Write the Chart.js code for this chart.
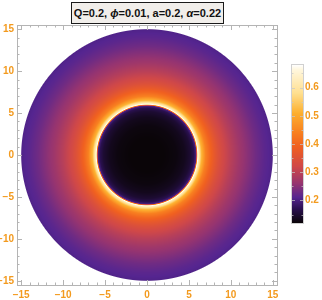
<!DOCTYPE html>
<html>
<head>
<meta charset="utf-8">
<script src="https://cdn.jsdelivr.net/npm/chart.js@4"></script>
<style>
  body { margin: 0; background: #fff; }
  #wrap { position: relative; width: 322px; height: 300px; }
  #main { position: absolute; left: 0; top: 0; }
  #bar { position: absolute; left: 280px; top: 55px; }
  #title {
    position: absolute; left: 71px; top: 2px; width: 151px; height: 20px;
    border: 1px solid #1a1a1a; background: #f1eeea;
    font: bold 11px "Liberation Sans", Arial, sans-serif; color: #111;
    text-align: center; line-height: 20px; white-space: nowrap;
  }
</style>
</head>
<body>
<div id="wrap">
  <canvas id="main" width="322" height="300"></canvas>
  <canvas id="bar" width="42" height="180"></canvas>
  <div id="title">Q=0.2, <i>ϕ</i>=0.01, a=0.2, <i>α</i>=0.22</div>
</div>
<script>
// ─── Data ──────────────────────────────────────────
const AXIS_TICKS = [-15, -10, -5, 0, 5, 10, 15];
const AXIS_RANGE = [-15.5, 15.5];
const BAR_TICKS = [0.2, 0.3, 0.4, 0.5, 0.6];
const BAR_RANGE = [0.12, 0.68];
const DISK_RADIUS = 15;
// radial intensity profile of the image
const RADII =     [0,    2,    3.5,   4.5,   5.2,  5.6,  5.85, 5.95, 6.05, 6.2,  6.5,  7,    7.5,  8,    8.5,   9,     10,    11,   12,   13,   14,    15];
const INTENSITY = [0.12, 0.12, 0.125, 0.135, 0.15, 0.17, 0.2,  0.4,  0.68, 0.61, 0.52, 0.44, 0.40, 0.37, 0.345, 0.325, 0.295, 0.27, 0.25, 0.23, 0.215, 0.205];

// ─── Colour map (sunset style) ─────────────────────
const CMAP = [
  [0.12, [10, 5, 8]], [0.17, [42, 16, 80]], [0.21, [85, 37, 144]],
  [0.26, [150, 52, 112]], [0.32, [208, 72, 72]], [0.39, [240, 96, 32]],
  [0.44, [248, 128, 32]], [0.51, [253, 176, 48]], [0.58, [255, 224, 144]],
  [0.665, [255, 248, 224]], [0.68, [255, 255, 255]]
];
const TICK_COLOR = '#f39a1e';
const FRAME_COLOR = '#b4b4b4';

function colorFor(v) {
  if (v <= CMAP[0][0]) return CMAP[0][1];
  for (let i = 1; i < CMAP.length; i++) {
    if (v <= CMAP[i][0]) {
      const [v0, c0] = CMAP[i - 1], [v1, c1] = CMAP[i];
      const t = (v - v0) / (v1 - v0);
      return c0.map((c, k) => c + (c1[k] - c) * t);
    }
  }
  return CMAP[CMAP.length - 1][1];
}

function profile(r) {
  if (r <= RADII[0]) return INTENSITY[0];
  for (let i = 1; i < RADII.length; i++) {
    if (r <= RADII[i]) {
      const t = (r - RADII[i - 1]) / (RADII[i] - RADII[i - 1]);
      return INTENSITY[i - 1] + (INTENSITY[i] - INTENSITY[i - 1]) * t;
    }
  }
  return INTENSITY[INTENSITY.length - 1];
}

const fmt = v => (v < 0 ? '\u2212' + Math.abs(v) : '' + v);

// ─── Density image plugin ──────────────────────────
const densityPlugin = {
  id: 'density',
  beforeDatasetsDraw(chart) {
    const { ctx, chartArea: a, scales: { x, y } } = chart;
    const left = Math.round(a.left), top = Math.round(a.top);
    const w = Math.round(a.right) - left, h = Math.round(a.bottom) - top;
    const img = ctx.createImageData(w, h);
    const pxPerUnit = (x.getPixelForValue(1) - x.getPixelForValue(0));
    for (let j = 0; j < h; j++) {
      const yv = y.getValueForPixel(top + j + 0.5);
      for (let i = 0; i < w; i++) {
        const xv = x.getValueForPixel(left + i + 0.5);
        const r = Math.hypot(xv, yv);
        const alpha = Math.max(0, Math.min(1, (DISK_RADIUS - r) * pxPerUnit + 0.5));
        if (alpha <= 0) continue;
        const c = colorFor(profile(r));
        const k = (j * w + i) * 4;
        img.data[k] = c[0]; img.data[k + 1] = c[1]; img.data[k + 2] = c[2];
        img.data[k + 3] = Math.round(alpha * 255);
      }
    }
    const tmp = document.createElement('canvas');
    tmp.width = w; tmp.height = h;
    tmp.getContext('2d').putImageData(img, 0, 0);
    ctx.drawImage(tmp, left, top);
  }
};

// ─── Frame + inward ticks ──────────────────────────
const framePlugin = {
  id: 'frame',
  afterDraw(chart) {
    const { ctx, chartArea: a, scales: { x, y } } = chart;
    ctx.save();
    ctx.strokeStyle = FRAME_COLOR;
    ctx.lineWidth = 1;
    ctx.strokeRect(Math.round(a.left) + 0.5, Math.round(a.top) + 0.5,
      Math.round(a.right - a.left), Math.round(a.bottom - a.top));
    ctx.beginPath();
    for (let v = -15; v <= 15; v++) {
      const len = v % 5 === 0 ? 5 : 2.5;
      const px = Math.round(x.getPixelForValue(v)) + 0.5;
      ctx.moveTo(px, a.bottom); ctx.lineTo(px, a.bottom - len);
      ctx.moveTo(px, a.top); ctx.lineTo(px, a.top + len);
      const py = Math.round(y.getPixelForValue(v)) + 0.5;
      ctx.moveTo(a.left, py); ctx.lineTo(a.left + len, py);
      ctx.moveTo(a.right, py); ctx.lineTo(a.right - len, py);
    }
    ctx.stroke();
    ctx.restore();
  }
};

const tickFont = { family: '"Liberation Sans", Arial, sans-serif', size: 10, weight: 'bold' };

new Chart(document.getElementById('main'), {
  type: 'scatter',
  data: { datasets: [{ data: [] }] },
  options: {
    responsive: false, animation: false,
    layout: { padding: { top: 25, right: 45, left: 0, bottom: 0 } },
    plugins: { legend: { display: false }, tooltip: { enabled: false } },
    scales: {
      x: {
        min: AXIS_RANGE[0], max: AXIS_RANGE[1],
        afterBuildTicks: s => { s.ticks = AXIS_TICKS.map(v => ({ value: v })); },
        afterFit: s => { s.height = 15; },
        grid: { display: false, drawTicks: false }, border: { display: false },
        ticks: { color: TICK_COLOR, font: tickFont, padding: 4, maxRotation: 0, callback: fmt }
      },
      y: {
        min: AXIS_RANGE[0], max: AXIS_RANGE[1],
        afterBuildTicks: s => { s.ticks = AXIS_TICKS.map(v => ({ value: v })); },
        afterFit: s => { s.width = 17; },
        grid: { display: false, drawTicks: false }, border: { display: false },
        ticks: { color: TICK_COLOR, font: tickFont, padding: 3, callback: fmt }
      }
    }
  },
  plugins: [densityPlugin, framePlugin]
});

// ─── Colour bar ────────────────────────────────────
const gradientPlugin = {
  id: 'gradient',
  beforeDatasetsDraw(chart) {
    const { ctx, chartArea: a, scales: { y } } = chart;
    ctx.save();
    for (let py = Math.round(a.top); py < Math.round(a.bottom); py++) {
      const c = colorFor(y.getValueForPixel(py + 0.5));
      ctx.fillStyle = `rgb(${c[0] | 0},${c[1] | 0},${c[2] | 0})`;
      ctx.fillRect(a.left, py, a.right - a.left, 1);
    }
    ctx.strokeStyle = '#d0d0d0';
    ctx.lineWidth = 1;
    ctx.strokeRect(Math.round(a.left) - 0.5, Math.round(a.top) - 0.5,
      Math.round(a.right - a.left) + 1, Math.round(a.bottom - a.top) + 1);
    ctx.strokeStyle = 'rgba(200,200,200,0.7)';
    ctx.beginPath();
    for (let v = 0.15; v < BAR_RANGE[1]; v += 0.05) {
      const py = Math.round(y.getPixelForValue(v)) + 0.5;
      const len = Math.abs(v * 10 - Math.round(v * 10)) < 1e-6 ? 3 : 1.5;
      ctx.moveTo(a.right, py); ctx.lineTo(a.right - len, py);
      ctx.moveTo(a.left, py); ctx.lineTo(a.left + len, py);
    }
    ctx.stroke();
    ctx.restore();
  }
};

new Chart(document.getElementById('bar'), {
  type: 'scatter',
  data: { datasets: [{ data: [] }] },
  options: {
    responsive: false, animation: false,
    layout: { padding: { top: 10, bottom: 12, left: 12, right: 0 } },
    plugins: { legend: { display: false }, tooltip: { enabled: false } },
    scales: {
      x: { display: false, min: 0, max: 1 },
      y: {
        position: 'right', min: BAR_RANGE[0], max: BAR_RANGE[1],
        afterBuildTicks: s => { s.ticks = BAR_TICKS.map(v => ({ value: v })); },
        afterFit: s => { s.width = 19; },
        grid: { display: false, drawTicks: false }, border: { display: false },
        ticks: { color: TICK_COLOR, font: tickFont, padding: 2, callback: v => v.toFixed(1) }
      }
    }
  },
  plugins: [gradientPlugin]
});
</script>
</body>
</html>
